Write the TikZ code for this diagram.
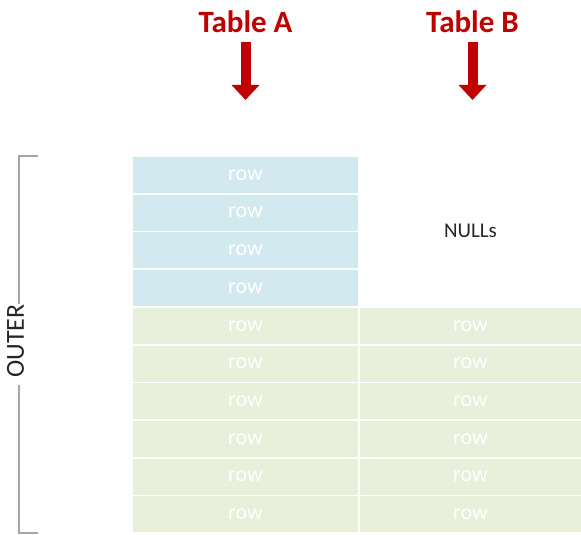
\documentclass[tikz,border=0pt]{standalone}
\usepackage{fontspec}
\setmainfont{Carlito}
\usetikzlibrary{arrows.meta}
\usetikzlibrary{positioning}
\definecolor{tablered}{HTML}{C00000}
\definecolor{cellblue}{HTML}{D3E9F0}
\definecolor{cellgreen}{HTML}{E8F0DB}
\definecolor{bracketgray}{HTML}{A6A6A6}
\tikzset{title/.style = {text = tablered, font = \bfseries\fontsize{31}{36}\selectfont,
                         anchor = base, inner sep = 0}}
\tikzset{down/.style = {draw = tablered, line width = 10pt,
                        -{Triangle[width = 27pt, length = 15pt]}, shorten < = 9pt}}
\tikzset{rowbox/.style = {minimum height = 36pt, inner sep = 0, text = white,
                          font = \fontsize{22}{26}\selectfont}}
\tikzset{rowA/.style = {rowbox, minimum width = 225pt}}
\tikzset{rowB/.style = {rowbox, minimum width = 221pt}}
\tikzset{bracket/.style = {draw = bracketgray, line width = 1.6pt}}

\begin{document}
\begin{tikzpicture}[x = 1pt, y = 1pt]
      \useasboundingbox (0, 0) rectangle (581, -535);

      \node (titleA) at (245.5, -33) [title] {Table A};
      \node (titleB) at (472.5, -33) [title] {Table B};
      \coordinate (tipA) at (245.5, -100);
      \coordinate (tipB) at (472.5, -100);
      \draw [down] (titleA.base) -- (tipA);
      \draw [down] (titleB.base) -- (tipB);

      \node (a1) at (245.5, -175) [rowA, fill = cellblue] {row};
      \node (a2) at (245.5, -212.7) [rowA, fill = cellblue] {row};
      \node (a3) at (245.5, -250.4) [rowA, fill = cellblue] {row};
      \node (a4) at (245.5, -288.1) [rowA, fill = cellblue] {row};
      \node (a5) at (245.5, -325.8) [rowA, fill = cellgreen] {row};
      \node (a6) at (245.5, -363.5) [rowA, fill = cellgreen] {row};
      \node (a7) at (245.5, -401.2) [rowA, fill = cellgreen] {row};
      \node (a8) at (245.5, -438.9) [rowA, fill = cellgreen] {row};
      \node (a9) at (245.5, -476.6) [rowA, fill = cellgreen] {row};
      \node (a10) at (245.5, -514.3) [rowA, fill = cellgreen] {row};

      \node (nulls) at (470.5, -231) [font = \fontsize{21}{25}\selectfont, text = black!85] {NULLs};
      \node (b5) at (470.5, -325.8) [rowB, fill = cellgreen] {row};
      \node (b6) at (470.5, -363.5) [rowB, fill = cellgreen] {row};
      \node (b7) at (470.5, -401.2) [rowB, fill = cellgreen] {row};
      \node (b8) at (470.5, -438.9) [rowB, fill = cellgreen] {row};
      \node (b9) at (470.5, -476.6) [rowB, fill = cellgreen] {row};
      \node (b10) at (470.5, -514.3) [rowB, fill = cellgreen] {row};

      % bracket on the left
      \node (outer) at (15.5, -341) [rotate = 90, inner sep = 0, text = black!85,
                                     font = \fontsize{26}{30}\selectfont] {OUTER};
      \coordinate (btop) at (19, -156);
      \coordinate (bbot) at (19, -533);
      \draw [bracket] (38, -156) -- (btop) -- (btop |- outer.east);
      \draw [bracket] (19, -385) -- (bbot) -- (38, -533);
    \end{tikzpicture}
\end{document}
